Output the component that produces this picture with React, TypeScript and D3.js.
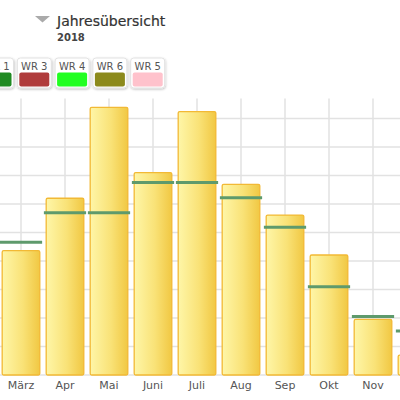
import React from "react";
import * as d3 from "d3";

const months = ["Jan", "Feb", "März", "Apr", "Mai", "Juni", "Juli", "Aug", "Sep", "Okt", "Nov", "Dez"];
const ertrag = [95, 230, 436, 620, 939, 710, 924, 669, 561, 421, 195, 70];
const soll = [150, 290, 466, 569, 569, 675, 675, 622, 518, 310, 205, 154];
const yTicks = [0, 100, 200, 300, 400, 500, 600, 700, 800, 900];
const legendLabels = ["WR 1", "WR 3", "WR 4", "WR 6", "WR 5"];
const legendColors = ["#1f8a22", "#b03c3c", "#22ff22", "#8c8a1c", "#ffc2cc"];
const title = "Jahresübersicht";
const subtitle = "2018";

const FONT = "'DejaVu Sans', Verdana, sans-serif";

export default function App() {
  const W = 400, H = 400;
  const x = d3.scaleBand<string>().domain(months).range([-89, 439]).padding(0);
  const y = d3.scaleLinear().domain([0, 970]).range([375, 98.5]);
  const bw = x.bandwidth();
  const barW = bw * 0.855;
  const lineW = bw * 0.96;
  const legendX = d3.scaleLinear().domain([0, 1]).range([-20.5, 17.3]);
  const visibleMonths = months.filter((m) => {
    const cx = (x(m) as number) + bw / 2;
    return cx > 0 && cx < W;
  });

  return (
    <svg
      width={W}
      height={H}
      style={{ position: "absolute", left: 0, top: 0, background: "#fff" }}
      fontFamily={FONT}
    >
      <defs>
        <linearGradient id="barGrad" x1="0" x2="1" y1="0" y2="0">
          <stop offset="0%" stopColor="#fef6a8" />
          <stop offset="55%" stopColor="#f9e277" />
          <stop offset="100%" stopColor="#f1c843" />
        </linearGradient>
        <filter id="sh" x="-20%" y="-20%" width="140%" height="150%">
          <feDropShadow dx="0.5" dy="1" stdDeviation="0.8" floodColor="#000" floodOpacity="0.25" />
        </filter>
      </defs>
      <rect x={0} y={0} width={W} height={H} fill="#fff" />

      {/* Title */}
      <path d="M35,16 L50,16 L42.5,22.5 Z" fill="#aaaaaa" />
      <text x={57} y={26} fontSize={14} fill="#333" stroke="#333" strokeWidth={0.2}>{title}</text>
      <text x={57} y={41} fontSize={10} fontWeight="bold" fill="#444">{subtitle}</text>

      {/* Legend */}
      {legendLabels.map((l, i) => {
        const lx = legendX(i);
        return (
          <g key={l}>
            <rect x={lx} y={58} width={34} height={30} rx={3} fill="#fff" stroke="#e2e2e2" filter="url(#sh)" />
            <text x={lx + 17} y={69.5} fontSize={10} fill="#555" textAnchor="middle">{l}</text>
            <rect x={lx + 2} y={72.5} width={30} height={14} rx={2} fill={legendColors[i]} />
          </g>
        );
      })}

      {/* Grid */}
      {yTicks.map((t) => (
        <line key={"h" + t} x1={0} x2={W} y1={y(t)} y2={y(t)} stroke="#e2e2e2" strokeWidth={1.5} />
      ))}
      {months.map((m) => (
        <line
          key={"v" + m}
          x1={(x(m) as number) + bw / 2}
          x2={(x(m) as number) + bw / 2}
          y1={y(970)}
          y2={y(0)}
          stroke="#e2e2e2"
          strokeWidth={1.5}
        />
      ))}

      {/* Bars */}
      {months.map((m, i) => {
        const cx = (x(m) as number) + bw / 2;
        return (
          <rect
            key={"b" + m}
            x={cx - barW / 2}
            y={y(ertrag[i])}
            width={barW}
            height={y(0) - y(ertrag[i])}
            rx={1.5}
            fill="url(#barGrad)"
            stroke="#f2b935"
            strokeWidth={1.3}
          />
        );
      })}

      {/* Target lines */}
      {months.map((m, i) => {
        const cx = (x(m) as number) + bw / 2;
        return (
          <line
            key={"s" + m}
            x1={cx - lineW / 2}
            x2={cx + lineW / 2}
            y1={y(soll[i])}
            y2={y(soll[i])}
            stroke="#5e9a6c"
            strokeWidth={3}
          />
        );
      })}

      {/* X labels */}
      {visibleMonths.map((m) => (
        <text
          key={"l" + m}
          x={(x(m) as number) + bw / 2}
          y={388.5}
          fontSize={11}
          fill="#555"
          textAnchor="middle"
        >
          {m}
        </text>
      ))}
    </svg>
  );
}
